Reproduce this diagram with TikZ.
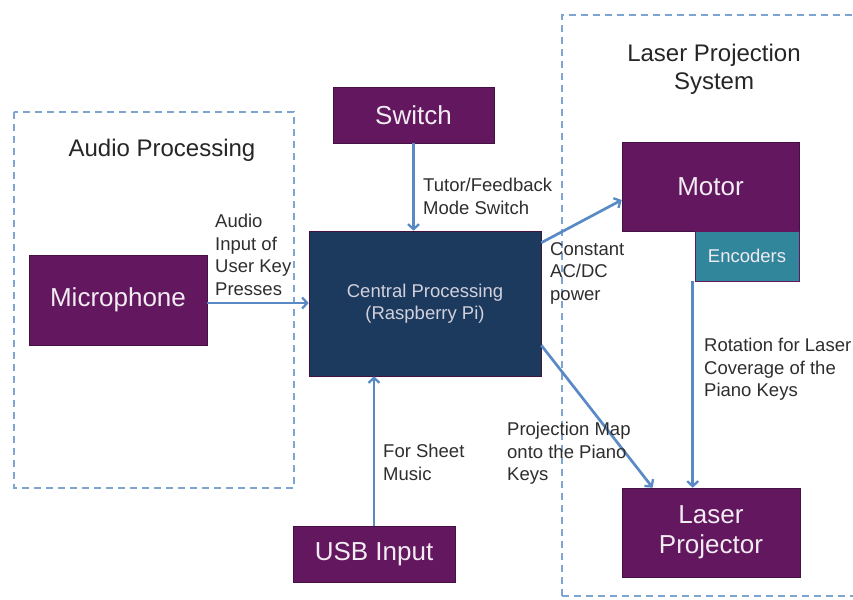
\documentclass[tikz,border=0pt]{standalone}
\usepackage{fontspec}
\setmainfont{Liberation Sans}
\usetikzlibrary{arrows.meta,calc}
\definecolor{boxpurple}{HTML}{62175E}
\definecolor{boxnavy}{HTML}{1C3A5E}
\definecolor{boxteal}{HTML}{31869B}
\definecolor{arrowblue}{HTML}{5A8AC6}
\definecolor{dashblue}{HTML}{7EA4D0}
\definecolor{labelgray}{HTML}{2E2E2E}
\definecolor{boxtext}{HTML}{F2ECF2}
\tikzset{
  block/.style={draw=boxpurple!70!black, line width=0.6pt, fill=boxpurple, text=boxtext,
    font=\fontsize{26}{30}\selectfont, align=center, inner sep=0pt},
  conn/.style={draw=arrowblue, line width=2.7pt, -{Straight Barb[length=5pt,width=11pt,line width=2.3pt]}},
  group/.style={draw=dashblue, line width=2.8pt, dash pattern=on 7pt off 5pt},
  lbl/.style={text=labelgray, font=\fontsize{18.5}{22.5}\selectfont, align=left, inner sep=0pt, anchor=north west},
  grouptitle/.style={text=black!85, font=\fontsize{24}{28}\selectfont, align=center, inner sep=0pt}
}
\begin{document}
\begin{tikzpicture}[x=1pt,y=-1pt]
\useasboundingbox (0,0) rectangle (853,599);
\fill[white] (0,0) rectangle (853,599);
% groups
\draw[group] (14,112) rectangle (294,488);
\draw[group] (562,596) -- (562,15) -- (870,15);
\draw[group] (562,596) -- (870,596);
\node[grouptitle] (tAudio) at (162,150) {Audio Processing};
\node[grouptitle] (tLaser) at (714,69) {Laser Projection\\System};
% blocks
\node[block, minimum width=178pt, minimum height=90pt] (mic) at (118,300) {Microphone};
\node[block, minimum width=161pt, minimum height=56pt] (switch) at (413.5,115) {Switch};
\node[block, fill=boxnavy, minimum width=232pt, minimum height=145pt,
  font=\fontsize{18.5}{22}\selectfont, text=boxtext!85!boxnavy] (cpu) at (425,303.5) {Central Processing\\(Raspberry Pi)};
\node[block, minimum width=177pt, minimum height=89pt] (motor) at (710.5,186.5) {Motor};
\node[block, fill=boxteal, draw=boxpurple, minimum width=104pt, minimum height=50pt,
  font=\fontsize{18.5}{22}\selectfont] (enc) at (747,256) {Encoders};
\node[block, minimum width=178pt, minimum height=89pt] (laser) at (711,532.5) {Laser\\Projector};
\node[block, minimum width=162pt, minimum height=56pt] (usb) at (374,554.5) {USB Input};
% connectors
\draw[conn] ([yshift=-3pt]mic.east) -- ([yshift=-3pt]cpu.west |- mic.east);
\draw[conn] (switch.south) -- (switch.south |- cpu.north);
\draw[conn] (usb.north) -- (usb.north |- cpu.south);
\draw[conn] ([yshift=-12pt]cpu.north east) -- ([yshift=-13.5pt]motor.west);
\draw[conn] ([yshift=31pt]cpu.south east) -- ([xshift=31pt]laser.north west);
\draw[conn] ([xshift=-2pt]enc.south west) -- ([xshift=-2pt]enc.south west |- laser.north);
% labels
\node[lbl] (lAudio) at (215,214) {Audio\\Input of\\User Key\\Presses};
\node[lbl] (lSwitch) at (423,178) {Tutor/Feedback\\Mode Switch};
\node[lbl] (lPower) at (550,242) {Constant\\AC/DC\\power};
\node[lbl] (lRot) at (704,338) {Rotation for Laser\\Coverage of the\\Piano Keys};
\node[lbl] (lMap) at (507,422) {Projection Map\\onto the Piano\\Keys};
\node[lbl] (lSheet) at (383,444) {For Sheet\\Music};
\end{tikzpicture}
\end{document}
